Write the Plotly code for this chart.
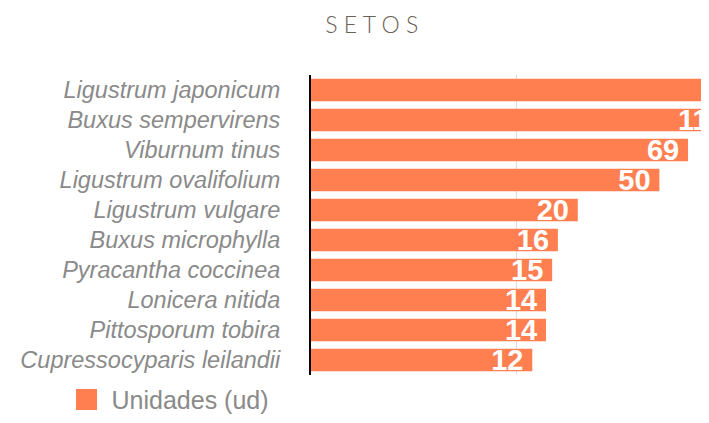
import plotly.graph_objects as go

# Hedge species and units planted (bars use a log scale)
species = [
    'Ligustrum japonicum',
    'Buxus sempervirens',
    'Viburnum tinus',
    'Ligustrum ovalifolium',
    'Ligustrum vulgare',
    'Buxus microphylla',
    'Pyracantha coccinea',
    'Lonicera nitida',
    'Pittosporum tobira',
    'Cupressocyparis leilandii',
]
units = [215, 115, 69, 50, 20, 16, 15, 14, 14, 12]

bar_color = '#FF7F50'
label_color = '#8a8a8a'

fig = go.Figure()

fig.add_trace(go.Bar(
    x=units,
    y=species,
    orientation='h',
    marker=dict(color=bar_color, line=dict(width=0)),
    text=[f'{u}\u2009' for u in units],
    textposition='inside',
    insidetextanchor='end',
    textangle=0,
    constraintext='none',
    textfont=dict(family='Liberation Sans', size=29, color='white', weight='bold'),
    showlegend=False,
    hoverinfo='skip'
))

# Legend entry only (bigger square than the default bar swatch)
fig.add_trace(go.Scatter(
    x=[None],
    y=[None],
    mode='markers',
    name='Unidades (ud)',
    marker=dict(symbol='square', size=16, color=bar_color,
                line=dict(color=bar_color, width=5)),
))

fig.update_layout(
    width=693,
    height=407,
    margin=dict(l=303, r=0, t=67, b=40),
    paper_bgcolor='white',
    plot_bgcolor='white',
    bargap=0.25,
    title=dict(
        text='S E T O S',
        x=0.525,
        xanchor='center',
        y=0.958,
        yanchor='middle',
        font=dict(family='Lato', size=23, color='#6b6056', weight=300),
    ),
    xaxis=dict(
        type='log',
        range=[0, 1.902],
        showticklabels=False,
        ticks='',
        showgrid=True,
        gridcolor='#dddddd',
        gridwidth=1,
        zeroline=False,
        showline=False,
        tickvals=[10],
    ),
    yaxis=dict(
        autorange='reversed',
        showline=True,
        linecolor='black',
        linewidth=2,
        ticks='',
        ticklabelstandoff=24,
        tickfont=dict(family='Liberation Sans', size=23.5, color=label_color, style='italic'),
    ),
    legend=dict(
        orientation='h',
        xref='container',
        yref='container',
        x=0.0772,
        xanchor='left',
        y=0.094,
        yanchor='top',
        font=dict(family='Liberation Sans', size=25, color=label_color),
        itemwidth=40,
    ),
)

fig.write_html("out.html")
